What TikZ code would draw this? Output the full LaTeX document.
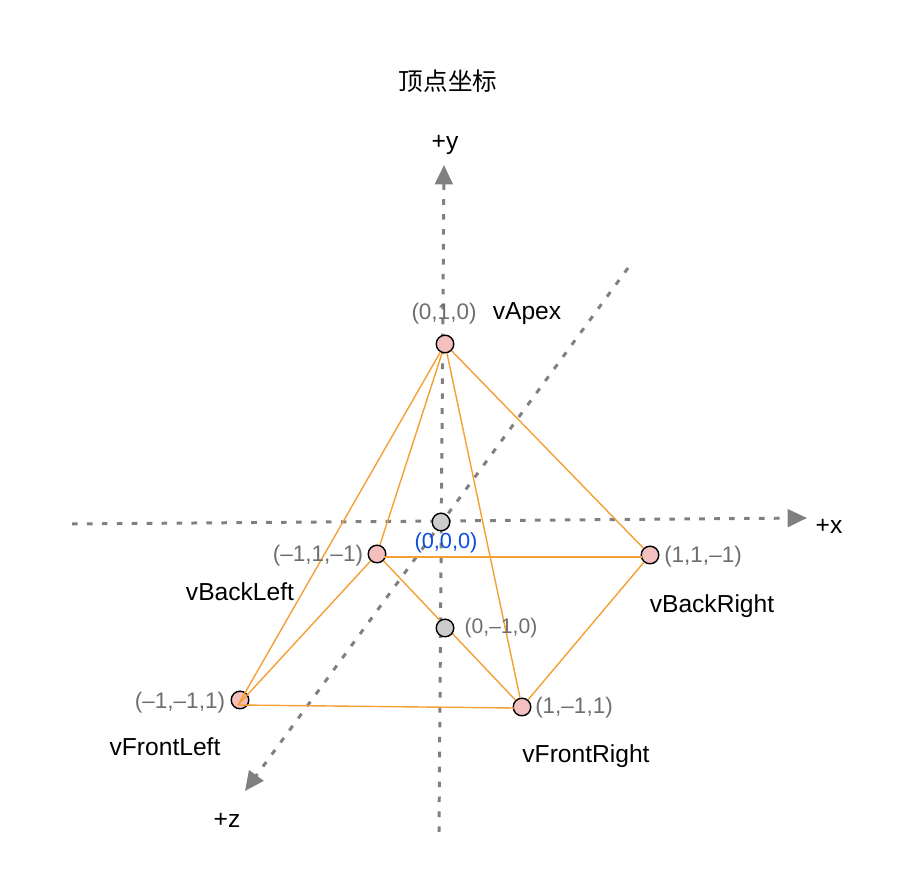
\documentclass[tikz,border=0pt]{standalone}
\usepackage{fontspec}
\setmainfont{Liberation Sans}
\newfontfamily\cjk{Noto Sans CJK SC}
\usetikzlibrary{arrows.meta}
\definecolor{axisgray}{HTML}{808080}
\definecolor{edgeorange}{HTML}{F5A033}
\definecolor{vertexpink}{HTML}{F4BFBF}
\definecolor{centergray}{HTML}{CCCCCC}
\definecolor{coordgray}{HTML}{6E6E6E}
\definecolor{originblue}{HTML}{0B4FE0}
\tikzset{
    axisline/.style={draw=axisgray, line width=1.7pt, dash pattern=on 3.2pt off 5.3pt, -{Triangle[length=11pt,width=10pt,fill=axisgray]}},
    edgeline/.style={draw=edgeorange, line width=0.8pt},
    vertex/.style={circle, draw=black, line width=0.8pt, fill=vertexpink, minimum size=10pt, inner sep=0pt},
    midvertex/.style={vertex, fill=centergray},
    coordlabel/.style={text=coordgray, font=\fontsize{12.8}{15}\selectfont},
    namelabel/.style={text=black, font=\fontsize{14}{16}\selectfont}
}
\begin{document}
\begin{tikzpicture}[x=0.02cm,y=-0.02cm]
    \useasboundingbox (0,0) rectangle (904,888);

    % axes
    \coordinate (yTail) at (439,832);
    \coordinate (yTip) at (444,165);
    \coordinate (xTail) at (72,524);
    \coordinate (xTip) at (807,518);
    \coordinate (zTail) at (628,268);
    \coordinate (zTip) at (245,791);
    \draw[axisline] (yTail) -- (yTip);
    \draw[axisline] (xTail) -- (xTip);
    \draw[axisline] (zTail) -- (zTip);

    % vertices
    \node[vertex] (vApex) at (445,344) {};
    \node[vertex] (vBackLeft) at (377,554) {};
    \node[vertex] (vBackRight) at (650,555) {};
    \node[vertex] (vFrontLeft) at (240,700) {};
    \node[vertex] (vFrontRight) at (522,707) {};
    \node[midvertex] (vOrigin) at (441,522) {};

    % where the edges really meet
    \coordinate (frontLeftJoin) at (238,705);
    \coordinate (backLeftJoin) at (384,557);
    \coordinate (backRightJoin) at (642,557);
    \coordinate (frontRightJoin) at (514,708);

    % edges
    \draw[edgeline] (vApex) -- (vBackLeft);
    \draw[edgeline] (vApex) -- (vBackRight);
    \draw[edgeline] (vApex) -- (vFrontRight);
    \draw[edgeline] (vApex) -- (frontLeftJoin);
    \draw[edgeline] (backLeftJoin) -- (backRightJoin);
    \draw[edgeline] (vBackLeft) -- (frontLeftJoin);
    \draw[edgeline] (vBackLeft) -- (vFrontRight);
    \draw[edgeline] (vBackRight) -- (vFrontRight);
    \draw[edgeline] (frontLeftJoin) -- (frontRightJoin);
    \node[midvertex] (vBottom) at (445,628) {};

    % labels
    \node[namelabel] (title) at (448,81) {\cjk 顶点坐标};
    \node[namelabel] (yLabel) at (445,145) {+y};
    \node[namelabel] (xLabel) at (829,526) {+x};
    \node[namelabel] (zLabel) at (227,820) {+z};
    \node[coordlabel] (apexCoord) at (444,314) {(0,1,0)};
    \node[namelabel] (apexName) at (527,314) {vApex};
    \node[coordlabel, text=originblue, font=\fontsize{12.4}{14}\selectfont] (originCoord) at (446,543) {(0,0,0)};
    \node[coordlabel] (backLeftCoord) at (318,556) {(–1,1,–1)};
    \node[coordlabel] (backRightCoord) at (703,557) {(1,1,–1)};
    \node[namelabel] (backLeftName) at (240,592) {vBackLeft};
    \node[namelabel] (backRightName) at (712,606) {vBackRight};
    \node[coordlabel, font=\fontsize{12}{14}\selectfont] (bottomCoord) at (501,628) {(0,–1,0)};
    \node[coordlabel] (frontLeftCoord) at (180,703) {(–1,–1,1)};
    \node[coordlabel] (frontRightCoord) at (574,708) {(1,–1,1)};
    \node[namelabel] (frontLeftName) at (165,747) {vFrontLeft};
    \node[namelabel] (frontRightName) at (586,756) {vFrontRight};
\end{tikzpicture}
\end{document}
